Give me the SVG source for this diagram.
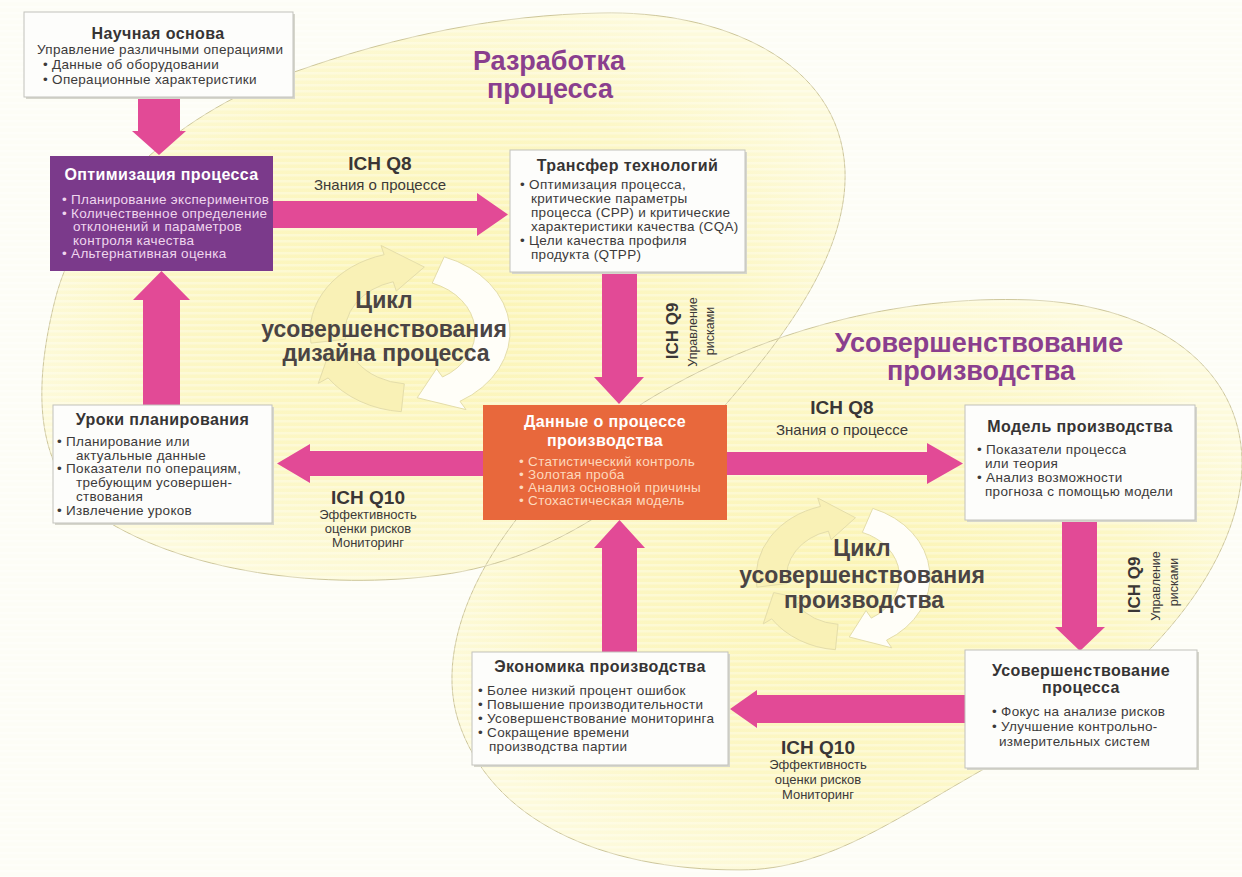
<svg xmlns="http://www.w3.org/2000/svg" width="1242" height="877" viewBox="0 0 1242 877">
<defs>
<radialGradient id="gy" cx="50%" cy="50%" r="55%">
<stop offset="0" stop-color="#fbf4b4"/>
<stop offset="0.65" stop-color="#fcf7c6"/>
<stop offset="1" stop-color="#fdfadc"/>
</radialGradient>
<pattern id="stripes" width="12" height="6" patternUnits="userSpaceOnUse">
<rect x="0" y="0" width="12" height="2.5" fill="#ffffff" opacity="0.3"/>
</pattern>
<style>
.bg{fill:#fdfdf6}
.blob{fill:url(#gy)}
.edge{fill:none;stroke:#cdc69a;stroke-width:1}
.box{fill:#fdfdfb;stroke:#c2c2bc;stroke-width:1}
.sh{fill:#d6d6cc}
.arr{fill:#e24a96}
.cy1{fill:#f9f1b6;stroke:#e4ddaa;stroke-width:1}
.cy2{fill:#fffef8;stroke:#e4ddaa;stroke-width:1}
text{font-family:"Liberation Sans",Arial,sans-serif}
.t{font-size:13.5px;letter-spacing:0.3px;fill:#3c3a3a}
.h{font-size:16px;font-weight:bold;letter-spacing:0.4px;fill:#363434;text-anchor:middle}
.hw{fill:#ffffff}
.tp{fill:#efd6ee}
.to{fill:#fdd9bd}
.ich{font-size:19px;font-weight:bold;fill:#3a3636;text-anchor:middle}
.lab{font-size:15px;fill:#3c3a3a;text-anchor:middle}
.sm{font-size:13px;fill:#3c3a3a;text-anchor:middle}
.vi{font-size:17px;font-weight:bold;fill:#3a3636;text-anchor:middle}
.vs{font-size:12.5px;fill:#3c3a3a;text-anchor:middle}
.big{font-size:27px;font-weight:bold;fill:#8a3f8e;text-anchor:middle}
.cyc{font-size:23px;font-weight:bold;fill:#4a4444;text-anchor:middle}
</style>
</defs>

<rect class="bg" x="0" y="0" width="1242" height="877"/>

<g id="regions">
<path class="blob" d="M 600,13 C 720,10 840,60 845,170 C 848,250 790,330 727,403 C 660,480 560,560 440,575 C 330,590 180,575 90,510 C 40,470 30,400 55,300 C 80,200 180,110 300,70 C 400,35 500,15 600,13 Z"/>
<path class="blob" d="M 643,403 C 760,330 900,295 1030,300 C 1160,305 1240,370 1242,460 C 1244,560 1150,680 1000,760 C 900,815 830,870 740,870 C 600,870 490,820 458,720 C 430,630 500,500 643,403 Z"/>
<path class="edge" d="M 600,13 C 720,10 840,60 845,170 C 848,250 790,330 727,403 C 660,480 560,560 440,575 C 330,590 180,575 90,510 C 40,470 30,400 55,300 C 80,200 180,110 300,70 C 400,35 500,15 600,13 Z"/>
<path class="edge" d="M 643,403 C 760,330 900,295 1030,300 C 1160,305 1240,370 1242,460 C 1244,560 1150,680 1000,760 C 900,815 830,870 740,870 C 600,870 490,820 458,720 C 430,630 500,500 643,403 Z"/>
<rect x="0" y="0" width="1242" height="877" fill="url(#stripes)"/>
</g>

<g id="cycle-design" transform="translate(410,332) scale(1,0.8)">
<path class="cy1" d="M -99,13.9 A100,100 0 0 1 -25.9,-96.6 L -29,-108.2 L 14.3,-81.2 L -13.7,-51.2 L -16.8,-62.8 A65,65 0 0 0 -64.4,9 Z" vector-effect="non-scaling-stroke"/>
<path class="cy2" d="M 34.2,-94 A100,100 0 0 1 50,86.6 L 56,97 L 7.2,82.2 L 26.5,45.9 L 32.5,56.3 A65,65 0 0 0 22.2,-61.1 Z" vector-effect="non-scaling-stroke"/>
<path class="cy1" d="M -8.7,99.6 A100,100 0 0 1 -81.9,57.4 L -91.7,64.2 L -79.7,21.4 L -43.4,30.4 L -53.2,37.3 A65,65 0 0 0 -5.7,64.8 Z" vector-effect="non-scaling-stroke"/>
</g>
<g id="cycle-production" transform="translate(843,577) scale(0.87,0.73)">
<path class="cy1" d="M -99,13.9 A100,100 0 0 1 -25.9,-96.6 L -29,-108.2 L 14.3,-81.2 L -13.7,-51.2 L -16.8,-62.8 A65,65 0 0 0 -64.4,9 Z" vector-effect="non-scaling-stroke"/>
<path class="cy2" d="M 34.2,-94 A100,100 0 0 1 50,86.6 L 56,97 L 7.2,82.2 L 26.5,45.9 L 32.5,56.3 A65,65 0 0 0 22.2,-61.1 Z" vector-effect="non-scaling-stroke"/>
<path class="cy1" d="M -8.7,99.6 A100,100 0 0 1 -81.9,57.4 L -91.7,64.2 L -79.7,21.4 L -43.4,30.4 L -53.2,37.3 A65,65 0 0 0 -5.7,64.8 Z" vector-effect="non-scaling-stroke"/>
</g>

<g id="titles">
<text class="big" x="549" y="70">Разработка</text>
<text class="big" x="550" y="98">процесса</text>
<text class="big" x="979" y="352">Усовершенствование</text>
<text class="big" x="981" y="380">производства</text>
<text class="cyc" x="384" y="308">Цикл</text>
<text class="cyc" x="384" y="337">усовершенствования</text>
<text class="cyc" x="386" y="361">дизайна процесса</text>
<text class="cyc" x="862" y="556">Цикл</text>
<text class="cyc" x="862" y="583">усовершенствования</text>
<text class="cyc" x="864" y="608">производства</text>
</g>

<g id="connectors">
<polygon class="arr" points="138,97 180,97 180,131 186,131 159,155 132,131 138,131"/>
<polygon class="arr" points="273,201 477,201 477,193 508,214.5 477,236 477,228 273,228"/>
<polygon class="arr" points="602,272 637,272 637,377 644,377 619,404 594,377 602,377"/>
<polygon class="arr" points="483,451 310,451 310,444 277,463.5 310,483 310,476 483,476"/>
<polygon class="arr" points="143,405 180,405 180,300 190,300 161.5,271 133,300 143,300"/>
<polygon class="arr" points="727,452 927,452 927,443 963,463.5 927,484 927,475 727,475"/>
<polygon class="arr" points="1062,520 1097,520 1097,627 1105,627 1080,651 1055,627 1062,627"/>
<polygon class="arr" points="965,695 757,695 757,690 730,709 757,728 757,723 965,723"/>
<polygon class="arr" points="602,652 637,652 637,548 645,548 619.5,520 594,548 602,548"/>
<text class="ich" x="380" y="170">ICH Q8</text>
<text class="lab" x="380" y="190">Знания о процессе</text>
<text class="ich" x="842" y="414">ICH Q8</text>
<text class="lab" x="842" y="435">Знания о процессе</text>
<text class="ich" x="368" y="504">ICH Q10</text>
<text class="sm" x="368" y="519">Эффективность</text>
<text class="sm" x="368" y="533">оценки рисков</text>
<text class="sm" x="368" y="547">Мониторинг</text>
<text class="ich" x="818" y="754">ICH Q10</text>
<text class="sm" x="818" y="769">Эффективность</text>
<text class="sm" x="818" y="784">оценки рисков</text>
<text class="sm" x="818" y="799">Мониторинг</text>
<text class="vi" transform="translate(678,331) rotate(-90)">ICH Q9</text>
<text class="vs" transform="translate(697,332) rotate(-90)">Управление</text>
<text class="vs" transform="translate(714,331) rotate(-90)">рисками</text>
<text class="vi" transform="translate(1140,585) rotate(-90)">ICH Q9</text>
<text class="vs" transform="translate(1160,586) rotate(-90)">Управление</text>
<text class="vs" transform="translate(1178,582) rotate(-90)">рисками</text>
</g>

<g id="node-scientific">
<rect class="sh" x="26" y="14" width="269" height="85"/>
<rect class="box" x="24" y="12" width="269" height="85"/>
<text class="h" x="158" y="39">Научная основа</text>
<text class="t" x="37" y="54">Управление различными операциями</text>
<text class="t" x="43" y="69">• Данные об оборудовании</text>
<text class="t" x="43" y="84">• Операционные характеристики</text>
</g>

<g id="node-optimization">
<rect x="50" y="156" width="223" height="115" fill="#7b3a8b"/>
<text class="h hw" x="161.5" y="180">Оптимизация процесса</text>
<text class="t tp" x="62" y="204">• Планирование экспериментов</text>
<text class="t tp" x="62" y="218">• Количественное определение</text>
<text class="t tp" x="73" y="231">отклонений и параметров</text>
<text class="t tp" x="73" y="245">контроля качества</text>
<text class="t tp" x="62" y="258">• Альтернативная оценка</text>
</g>

<g id="node-transfer">
<rect class="sh" x="512" y="152" width="235" height="122"/>
<rect class="box" x="510" y="150" width="235" height="122"/>
<text class="h" x="627.5" y="171">Трансфер технологий</text>
<text class="t" x="520" y="189">• Оптимизация процесса,</text>
<text class="t" x="531" y="203">критические параметры</text>
<text class="t" x="531" y="217">процесса (CPP) и критические</text>
<text class="t" x="531" y="231">характеристики качества (CQA)</text>
<text class="t" x="520" y="245">• Цели качества профиля</text>
<text class="t" x="531" y="259">продукта (QTPP)</text>
</g>

<g id="node-data">
<rect x="483" y="405" width="244" height="115" fill="#e8683c"/>
<text class="h hw" x="605" y="427">Данные о процессе</text>
<text class="h hw" x="605" y="446">производства</text>
<text class="t to" x="519" y="466">• Статистический контроль</text>
<text class="t to" x="519" y="479">• Золотая проба</text>
<text class="t to" x="519" y="492">• Анализ основной причины</text>
<text class="t to" x="519" y="505">• Стохастическая модель</text>
</g>

<g id="node-lessons">
<rect class="sh" x="55" y="407" width="219" height="118"/>
<rect class="box" x="53" y="405" width="219" height="118"/>
<text class="h" x="162.5" y="425">Уроки планирования</text>
<text class="t" x="57" y="446">• Планирование или</text>
<text class="t" x="76" y="460">актуальные данные</text>
<text class="t" x="57" y="473">• Показатели по операциям,</text>
<text class="t" x="76" y="487">требующим усовершен-</text>
<text class="t" x="76" y="501">ствования</text>
<text class="t" x="57" y="515">• Извлечение уроков</text>
</g>

<g id="node-model">
<rect class="sh" x="967" y="407" width="230" height="115"/>
<rect class="box" x="965" y="405" width="230" height="115"/>
<text class="h" x="1080" y="432">Модель производства</text>
<text class="t" x="977" y="454">• Показатели процесса</text>
<text class="t" x="985" y="468">или теория</text>
<text class="t" x="977" y="482">• Анализ возможности</text>
<text class="t" x="985" y="496">прогноза с помощью модели</text>
</g>

<g id="node-improvement">
<rect class="sh" x="967" y="652" width="232" height="118"/>
<rect class="box" x="965" y="650" width="232" height="118"/>
<text class="h" x="1081" y="676">Усовершенствование</text>
<text class="h" x="1081" y="693">процесса</text>
<text class="t" x="992" y="716">• Фокус на анализе рисков</text>
<text class="t" x="992" y="731">• Улучшение контрольно-</text>
<text class="t" x="999" y="746">измерительных систем</text>
</g>

<g id="node-economics">
<rect class="sh" x="474" y="654" width="256" height="113"/>
<rect class="box" x="472" y="652" width="256" height="113"/>
<text class="h" x="600" y="672">Экономика производства</text>
<text class="t" x="478" y="695">• Более низкий процент ошибок</text>
<text class="t" x="478" y="709">• Повышение производительности</text>
<text class="t" x="478" y="723">• Усовершенствование мониторинга</text>
<text class="t" x="478" y="737">• Сокращение времени</text>
<text class="t" x="489" y="751">производства партии</text>
</g>
</svg>
